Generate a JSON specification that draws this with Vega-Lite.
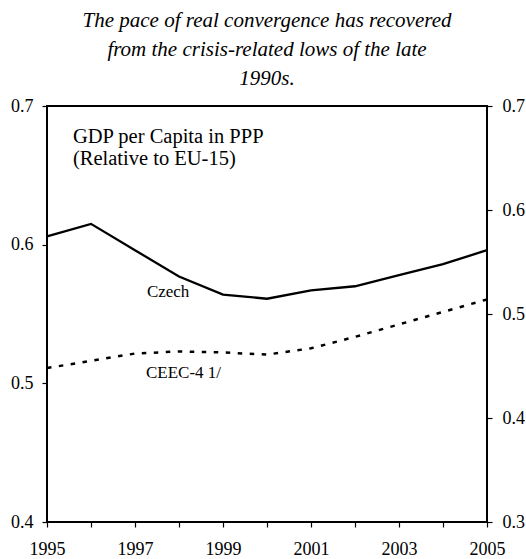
{
  "$schema": "https://vega.github.io/schema/vega-lite/v6.json",
  "width": 440,
  "height": 416,
  "autosize": "none",
  "padding": {"left": 47, "top": 106, "right": 39, "bottom": 37},
  "background": "white",
  "title": {
    "text": ["The pace of real convergence has recovered", "from the crisis-related lows of the late", "1990s."],
    "font": "Liberation Serif",
    "fontStyle": "italic",
    "fontWeight": "normal",
    "fontSize": 21,
    "lineHeight": 29,
    "color": "black",
    "anchor": "middle",
    "offset": 8
  },
  "config": {
    "view": {"stroke": "black", "strokeWidth": 2},
    "axis": {
      "grid": false,
      "domain": false,
      "ticks": true,
      "tickColor": "black",
      "tickWidth": 1.2,
      "tickSize": 5,
      "zindex": 1,
      "labelFont": "Liberation Serif",
      "labelFontSize": 18,
      "labelColor": "black",
      "title": null
    }
  },
  "datasets": {
    "czech": [
      {"year": 1995, "value": 0.606},
      {"year": 1996, "value": 0.615},
      {"year": 1997, "value": 0.596},
      {"year": 1998, "value": 0.577},
      {"year": 1999, "value": 0.564},
      {"year": 2000, "value": 0.561},
      {"year": 2001, "value": 0.567},
      {"year": 2002, "value": 0.570},
      {"year": 2003, "value": 0.578},
      {"year": 2004, "value": 0.586},
      {"year": 2005, "value": 0.596}
    ],
    "ceec": [
      {"year": 1995, "value": 0.448},
      {"year": 1996, "value": 0.455},
      {"year": 1997, "value": 0.462},
      {"year": 1998, "value": 0.464},
      {"year": 1999, "value": 0.463},
      {"year": 2000, "value": 0.461},
      {"year": 2001, "value": 0.467},
      {"year": 2002, "value": 0.478},
      {"year": 2003, "value": 0.490},
      {"year": 2004, "value": 0.502},
      {"year": 2005, "value": 0.514}
    ],
    "header": [
      {"year": 1995.59, "value": 0.6736, "label": "GDP per Capita in PPP"},
      {"year": 1995.59, "value": 0.6575, "label": "(Relative to EU-15)"}
    ],
    "series": [
      {"year": 1997.27, "value": 0.5624, "label": "Czech"},
      {"year": 1997.25, "value": 0.504, "label": "CEEC-4 1/"}
    ]
  },
  "layer": [
    {
      "encoding": {
        "x": {
          "field": "year", "type": "quantitative",
          "scale": {"domain": [1995, 2005], "nice": false, "zero": false},
          "axis": {
            "values": [1995, 1996, 1997, 1998, 1999, 2000, 2001, 2002, 2003, 2004, 2005],
            "labelExpr": "datum.value % 2 == 1 ? datum.value : ''",
            "labelPadding": 13,
            "labelFlush": false,
            "labelOverlap": false,
            "encode": {"ticks": {"update": {"y2": {"value": -5}}}}
          }
        },
        "y": {
          "field": "value", "type": "quantitative",
          "scale": {"domain": [0.4, 0.7], "nice": false, "zero": false},
          "axis": {
            "orient": "left",
            "values": [0.4, 0.5, 0.6, 0.7],
            "format": ".1f",
            "labelPadding": 9,
            "labelFlush": false,
            "labelOverlap": false,
            "encode": {"ticks": {"update": {"x2": {"value": 5}}}}
          }
        }
      },
      "layer": [
        {
          "data": {"name": "czech"},
          "mark": {"type": "line", "color": "black", "strokeWidth": 2.3}
        },
        {
          "data": {"name": "header"},
          "mark": {"type": "text", "align": "left", "baseline": "alphabetic", "font": "Liberation Serif", "fontSize": 20.5, "color": "black"},
          "encoding": {"text": {"field": "label"}}
        },
        {
          "data": {"name": "series"},
          "mark": {"type": "text", "align": "left", "baseline": "alphabetic", "font": "Liberation Serif", "fontSize": 17, "color": "black"},
          "encoding": {"text": {"field": "label"}}
        }
      ]
    },
    {
      "data": {"name": "ceec"},
      "mark": {"type": "line", "color": "black", "strokeWidth": 2.5, "strokeDash": [4.5, 7.5]},
      "encoding": {
        "x": {
          "field": "year", "type": "quantitative",
          "scale": {"domain": [1995, 2005], "nice": false, "zero": false},
          "axis": {
            "values": [1995, 1996, 1997, 1998, 1999, 2000, 2001, 2002, 2003, 2004, 2005],
            "labelExpr": "datum.value % 2 == 1 ? datum.value : ''",
            "labelPadding": 13,
            "labelFlush": false,
            "labelOverlap": false,
            "encode": {"ticks": {"update": {"y2": {"value": -5}}}}
          }
        },
        "y": {
          "field": "value", "type": "quantitative",
          "scale": {"domain": [0.3, 0.7], "nice": false, "zero": false},
          "axis": {
            "orient": "right",
            "values": [0.3, 0.4, 0.5, 0.6, 0.7],
            "format": ".1f",
            "labelPadding": 10,
            "labelFlush": false,
            "labelOverlap": false,
            "encode": {"ticks": {"update": {"x2": {"value": -5}}}}
          }
        }
      }
    }
  ],
  "resolve": {"scale": {"y": "independent"}}
}
